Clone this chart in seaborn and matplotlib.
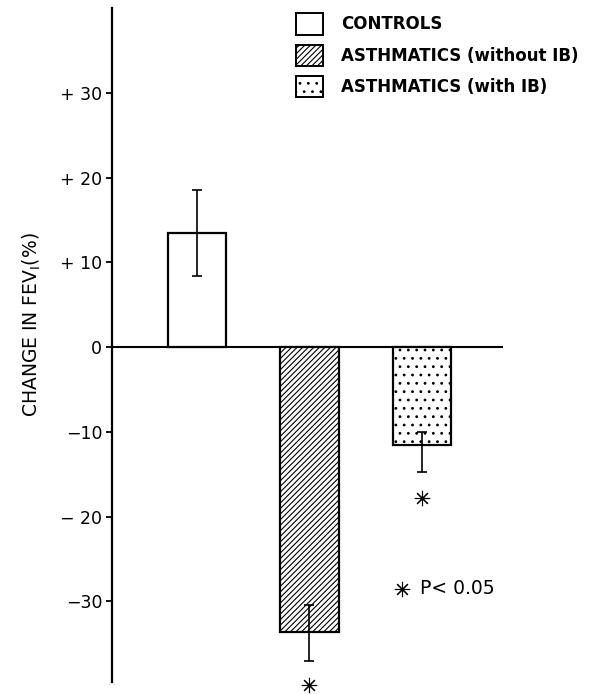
import numpy as np
import pandas as pd
import matplotlib.pyplot as plt
import seaborn as sns
from matplotlib.patches import Patch

sns.set_theme(style="white")
plt.rcParams['font.family'] = ['DejaVu Sans']
plt.rcParams['hatch.linewidth'] = 0.8
plt.rcParams['text.color'] = 'black'
plt.rcParams['axes.labelcolor'] = 'black'
plt.rcParams['ytick.color'] = 'black'

# values
groups = ["CONTROLS", "ASTHMATICS (without IB)", "ASTHMATICS (with IB)"]
change_fev1 = [13.4, -33.6, -11.6]
err_low = [5.0, 3.4, 3.1]
err_high = [5.1, 3.2, 1.6]
hatches = ["", "//////", ".."]
yticks = [30, 20, 10, 0, -10, -20, -30]
ytick_labels = ["+ 30", "+ 20", "+ 10", "0", "\u221210", "\u2212 20", "\u221230"]
sig_groups = [1, 2]
sig_y = [-39.9, -17.8]

df = pd.DataFrame({"group": groups, "change": change_fev1})

fig = plt.figure(figsize=(5.89, 6.94), dpi=100)
ax = fig.add_axes([0.190, 0.0173, 0.664, 0.9712])

sns.barplot(data=df, x="group", y="change", order=groups, color="white",
            saturation=1, width=0.52, edgecolor="black", linewidth=1.6,
            errorbar=None, ax=ax)
for patch, h in zip(ax.patches, hatches):
    patch.set_facecolor("white")
    patch.set_hatch(h)

xpos = np.arange(len(groups))
ax.errorbar(xpos, change_fev1, yerr=[err_low, err_high], fmt="none",
            ecolor="black", elinewidth=1.2, capsize=3.5, capthick=1.2)

ax.axhline(0, color="black", lw=1.5, zorder=0.5)

# significance markers
ax.plot(xpos[sig_groups], sig_y, linestyle="none", marker=(8, 2, 0),
        markersize=11, color="black", mew=0.8, clip_on=False)
ax.plot([1.82], [-28.5], linestyle="none", marker=(8, 2, 0),
        markersize=11, color="black", mew=0.8, clip_on=False)
ax.text(1.98, -28.5, "P< 0.05", fontsize=13.5, va="center", ha="left")

ax.set_xlim(-0.756, 2.72)
ax.set_ylim(-39.5, 40)
ax.set_yticks(yticks)
ax.set_yticklabels(ytick_labels, fontsize=12.5)
ax.set_xticks([])
ax.set_xlabel("")
ax.set_ylabel("CHANGE IN FEV$_{\\rm I}$(%)", fontsize=13.5)
ax.yaxis.set_label_coords(-0.175, 0.53)
ax.tick_params(axis="y", direction="out", length=4, width=1.3, pad=3,
               left=True, colors="black")

for side in ["top", "right", "bottom"]:
    ax.spines[side].set_visible(False)
ax.spines["left"].set_linewidth(1.6)
ax.spines["left"].set_color("black")

handles = [Patch(facecolor="white", edgecolor="black", hatch=h, lw=1.4)
           for h in hatches]
fig.legend(handles, groups, loc="upper left", bbox_to_anchor=(0.5025, 0.981),
           frameon=False, handlelength=1.6, handleheight=1.6,
           handletextpad=1.1, labelspacing=0.6, borderpad=0, borderaxespad=0,
           prop={"weight": "bold", "size": 12})

fig.savefig("out.png", dpi=100, facecolor="white")
